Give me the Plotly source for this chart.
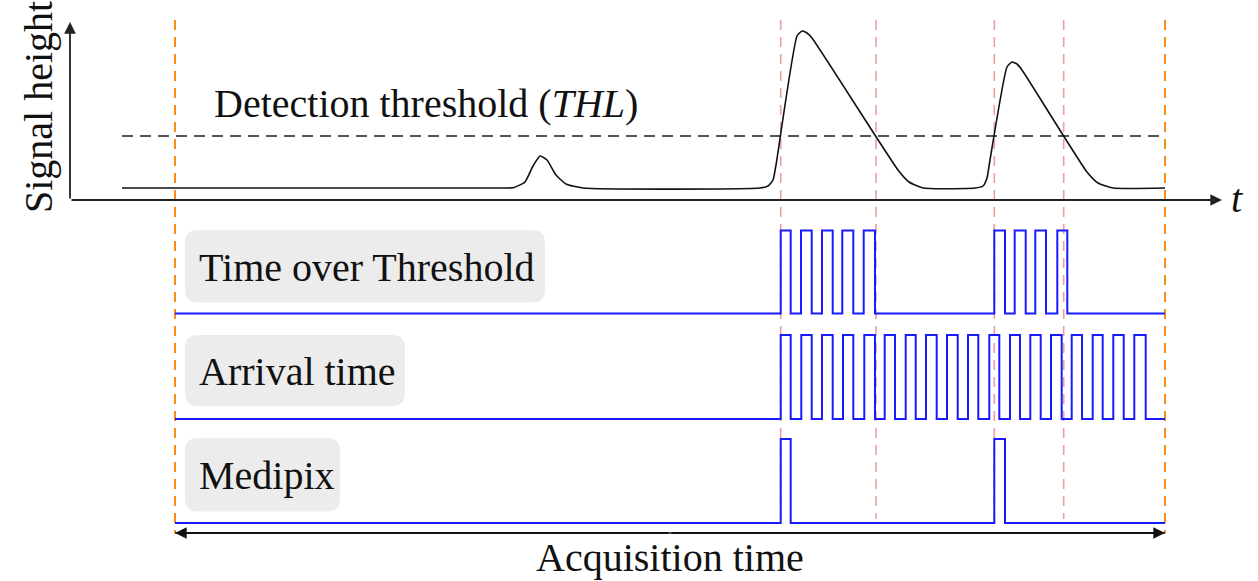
import plotly.graph_objects as go

# ---------------- data (time position, signal height in chart units) ----------------
# chart units: x = time position, y = vertical position (down is positive, reversed axis)
signal_t = [122, 505, 514, 525, 533, 540, 547, 556, 566, 583, 760, 768, 773, 776, 797,
            802, 807, 812, 898, 909, 923, 975, 983, 987, 990, 1007, 1012, 1017, 1022,
            1087, 1098, 1113, 1165]
signal_h = [188, 188, 187.5, 182, 166, 156, 160, 175, 184, 188, 188, 186, 180, 165, 36,
            31, 33, 38, 170, 182, 188, 188, 186, 178, 160, 67, 62, 64, 70,
            172, 183, 188, 188]
threshold_level = 136
threshold_span = [122, 1165]

acq_start, acq_end = 175, 1165
crossings = [780.7, 876, 994.3, 1063.7]

tot_rise = [780.7, 801, 822, 842.3, 863.7, 994.3, 1014.7, 1035.3, 1057.3]
tot_fall = [790.7, 811.7, 832.7, 853.3, 875, 1005, 1025.7, 1046, 1067.3]

toa_rise = [780.7, 801.3, 822, 843, 864.3, 884.7, 905.7, 926, 947, 968, 989.3, 1010,
            1030.3, 1051, 1071.7, 1092.7, 1113.3, 1134.3]
toa_fall = [790.7, 811.7, 832.7, 853.3, 875, 895, 915.7, 936.7, 957.7, 978.3, 999.3,
            1020, 1040.7, 1061.7, 1082, 1102.7, 1123.7, 1145.7]

mpx_rise = [780.7, 994.3]
mpx_fall = [790.7, 1005]

row_names = ["Time over Threshold", "Arrival time", "Medipix"]
row_low = [313.5, 419, 523]
row_high = [230.5, 335, 439]
row_box_right = [545, 405, 340]
row_box_top = [230, 335, 438]
row_box_bottom = [302.5, 406, 511.5]

FONT = "Liberation Serif"
BLUE = "#1a1aff"


def step_trace(rises, falls, low, high):
    xs, ys = [acq_start], [low]
    for r, f in zip(rises, falls):
        xs += [r, r, f, f]
        ys += [low, high, high, low]
    xs.append(acq_end)
    ys.append(low)
    return xs, ys


fig = go.Figure()

# label boxes (rounded rectangles)
shapes = []
for left, right, top, bot in zip([185] * 3, row_box_right, row_box_top, row_box_bottom):
    r = 13
    path = (f"M {left+r},{top} L {right-r},{top} Q {right},{top} {right},{top+r} "
            f"L {right},{bot-r} Q {right},{bot} {right-r},{bot} L {left+r},{bot} "
            f"Q {left},{bot} {left},{bot-r} L {left},{top+r} Q {left},{top} {left+r},{top} Z")
    shapes.append(dict(type="path", path=path, xref="x", yref="y",
                       fillcolor="#ececec", line=dict(width=0), layer="below"))

# vertical dashed guides
for xc in crossings:
    fig.add_trace(go.Scatter(x=[xc, xc], y=[20, 519], mode="lines",
                             line=dict(color="rgba(228,120,120,0.7)", width=1.6, dash="10px,7px"),
                             hoverinfo="skip", showlegend=False))
for xc in [acq_start, acq_end]:
    fig.add_trace(go.Scatter(x=[xc, xc], y=[20, 533], mode="lines",
                             line=dict(color="#ff8c1a", width=2, dash="10px,7px"),
                             hoverinfo="skip", showlegend=False))

# threshold line
fig.add_trace(go.Scatter(x=threshold_span, y=[threshold_level] * 2, mode="lines",
                         line=dict(color="#555555", width=1.8, dash="11px,7px"),
                         hoverinfo="skip", showlegend=False))

# analog signal
fig.add_trace(go.Scatter(x=signal_t, y=signal_h, mode="lines",
                         line=dict(color="#111111", width=1.6, shape="spline", smoothing=0.5),
                         hoverinfo="skip", showlegend=False))

# digital rows
for (rises, falls), low, high in zip([(tot_rise, tot_fall), (toa_rise, toa_fall), (mpx_rise, mpx_fall)],
                                     row_low, row_high):
    xs, ys = step_trace(rises, falls, low, high)
    fig.add_trace(go.Scatter(x=xs, y=ys, mode="lines", line=dict(color=BLUE, width=2),
                             hoverinfo="skip", showlegend=False))

# acquisition line base
fig.add_trace(go.Scatter(x=[acq_start, acq_end], y=[533, 533], mode="lines",
                         line=dict(color="#111111", width=1.6), hoverinfo="skip", showlegend=False))

annotations = []
# axes arrows
arrow_common = dict(xref="x", yref="y", axref="x", ayref="y", text="", showarrow=True,
                    arrowhead=2, arrowsize=1.3, arrowwidth=1.8, arrowcolor="#222222", standoff=0)
annotations.append(dict(x=70, y=22, ax=70, ay=200, **arrow_common))
annotations.append(dict(x=1222, y=200, ax=70, ay=200, **arrow_common))
mid = (acq_start + acq_end) / 2
annotations.append(dict(x=acq_start, y=533, ax=mid, ay=533, **{**arrow_common, "arrowcolor": "#111111"}))
annotations.append(dict(x=acq_end, y=533, ax=mid, ay=533, **{**arrow_common, "arrowcolor": "#111111"}))

txt = dict(xref="x", yref="y", showarrow=False, font=dict(family=FONT, size=40, color="#111111"))
annotations.append(dict(x=1237, y=198, text="<i>t</i>", xanchor="center", yanchor="middle", **txt))
annotations.append(dict(x=38, y=107, text="Signal height", textangle=-90,
                        xanchor="center", yanchor="middle", **txt))
annotations.append(dict(x=212, y=103, text="Detection threshold (<i>THL</i>)",
                        xanchor="left", yanchor="middle", **txt))
annotations.append(dict(x=670, y=557, text="Acquisition time", xanchor="center",
                        yanchor="middle", **txt))
for name, top, bot in zip(row_names, row_box_top, row_box_bottom):
    annotations.append(dict(x=197, y=(top + bot) / 2 + 1, text=name, xanchor="left",
                            yanchor="middle", **txt))

fig.update_layout(
    width=1258, height=581,
    margin=dict(l=0, r=0, t=0, b=0),
    paper_bgcolor="white", plot_bgcolor="white",
    xaxis=dict(range=[0, 1258], visible=False, fixedrange=True),
    yaxis=dict(range=[581, 0], visible=False, fixedrange=True),
    shapes=shapes, annotations=annotations,
    showlegend=False,
)

fig.write_html("out.html", config={"displayModeBar": False},
               post_script="document.body.style.margin='0';document.body.style.overflow='hidden';")
